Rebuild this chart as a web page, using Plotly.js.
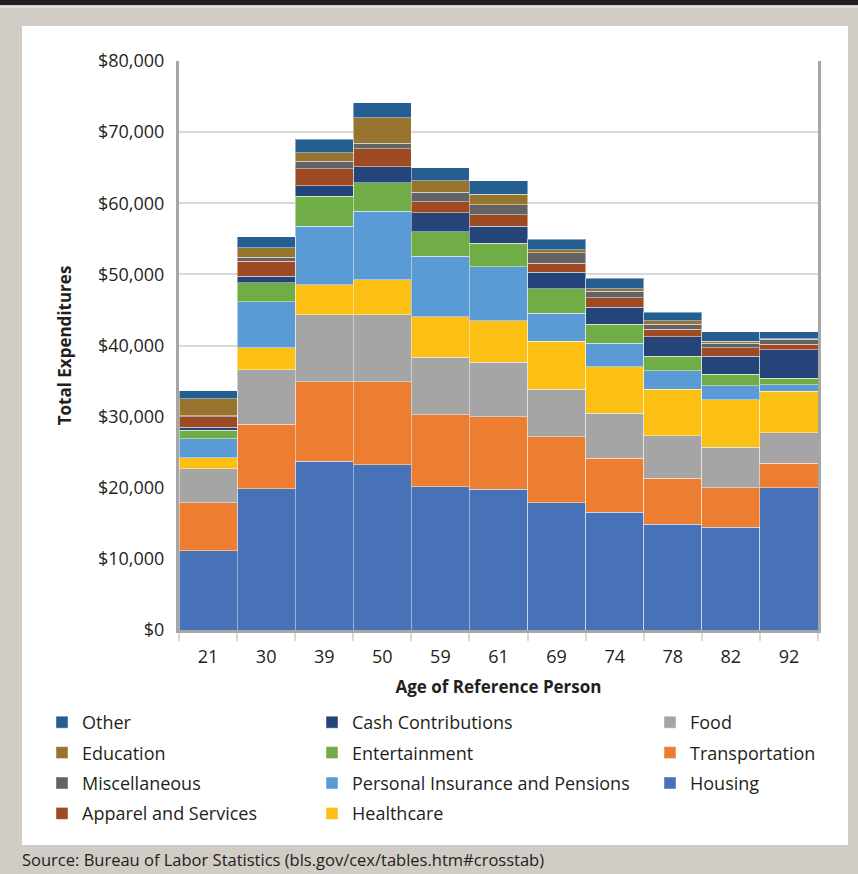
<!DOCTYPE html>
<html>
<head>
<meta charset="utf-8">
<script src="https://cdn.plot.ly/plotly-3.0.1.min.js"></script>
<style>
  html, body { margin: 0; padding: 0; }
  body { width: 858px; height: 874px; background: #d1ccc6; position: relative; overflow: hidden; font-family: "Open Sans", sans-serif; }
  #topbar { position: absolute; left: 0; top: 0; width: 858px; height: 5px; background: #231f20; }
  #topline { position: absolute; left: 0; top: 6px; width: 858px; height: 2px; background: #e2dfda; }
  #panel { position: absolute; left: 22px; top: 26px; width: 826px; height: 819px; background: #ffffff; }
  #chart { position: absolute; left: 0; top: 0; width: 858px; height: 874px; }
  #source { position: absolute; left: 22px; top: 848px; font-size: 16.5px; color: #231f20; }
</style>
</head>
<body>
<div id="topbar"></div>
<div id="topline"></div>
<div id="panel"></div>
<div id="chart"></div>
<div id="source">Source: Bureau of Labor Statistics (bls.gov/cex/tables.htm#crosstab)</div>
<script>
// Age of reference person (categories)
const ages = ['21', '30', '39', '50', '59', '61', '69', '74', '78', '82', '92'];

// Annual expenditures by category, dollars
const housing        = [11110, 19830, 23760, 23200, 20110, 19820, 17860, 16590, 14900, 14480, 19970];
const transportation = [6750, 9130, 11110, 11670, 10120, 10130, 9280, 7590, 6470, 5490, 3510];
const food           = [4780, 7600, 9420, 9420, 8150, 7730, 6740, 6330, 5910, 5760, 4220];
const healthcare     = [1550, 3090, 4220, 4920, 5630, 5770, 6750, 6470, 6600, 6610, 5900];
const insurance      = [2670, 6470, 8290, 9700, 8570, 7590, 3940, 3370, 2540, 1970, 850];
const entertainment  = [1260, 2670, 4220, 3940, 3380, 3370, 3380, 2670, 2100, 1680, 980];
const cash           = [420, 980, 1410, 2250, 2670, 2390, 2380, 2390, 2680, 2530, 3940];
const apparel        = [1410, 2110, 2390, 2530, 1550, 1550, 1270, 1270, 1120, 1130, 840];
const misc           = [200, 560, 1120, 840, 1400, 1410, 1410, 980, 700, 700, 700];
const education      = [2390, 1270, 1130, 3520, 1550, 1540, 420, 290, 430, 280, 60];
const other          = [1120, 1550, 1960, 2110, 1830, 1830, 1540, 1540, 1260, 1270, 990];

// Stack order from bottom to top; legend column and rank within that column
const series = [
  { name: 'Housing',                          y: housing,        color: '#4872b8', legend: 'legend3', rank: 3 },
  { name: 'Transportation',                   y: transportation, color: '#ed7d31', legend: 'legend3', rank: 2 },
  { name: 'Food',                             y: food,           color: '#a5a5a5', legend: 'legend3', rank: 1 },
  { name: 'Healthcare',                       y: healthcare,     color: '#fcbf14', legend: 'legend2', rank: 4 },
  { name: 'Personal Insurance and Pensions',  y: insurance,      color: '#5b9bd5', legend: 'legend2', rank: 3 },
  { name: 'Entertainment',                    y: entertainment,  color: '#70ad47', legend: 'legend2', rank: 2 },
  { name: 'Cash Contributions',               y: cash,           color: '#25457a', legend: 'legend2', rank: 1 },
  { name: 'Apparel and Services',             y: apparel,        color: '#9e4a23', legend: 'legend',  rank: 4 },
  { name: 'Miscellaneous',                    y: misc,           color: '#636363', legend: 'legend',  rank: 3 },
  { name: 'Education',                        y: education,      color: '#98742e', legend: 'legend',  rank: 2 },
  { name: 'Other',                            y: other,          color: '#255e91', legend: 'legend',  rank: 1 }
];

const traces = series.map(s => ({
  type: 'bar',
  name: s.name,
  x: ages,
  y: s.y,
  legend: s.legend,
  legendgroup: s.name,
  legendrank: s.rank,
  marker: { color: s.color, line: { color: 'rgba(255,255,255,0.45)', width: 1 } },
  hoverinfo: 'name+y'
}));

// plot area in page pixels: x 179..818, y 61..630
const L = 179, R = 818, T = 61, B = 630;
const W = 858, H = 874;
const px = v => (v - L) / (R - L);
const py = v => (B - v) / (B - T);

const legendFont = { family: 'Open Sans, sans-serif', size: 18, color: '#231f20' };
const legendBase = {
  orientation: 'v', xanchor: 'left', yanchor: 'top',
  traceorder: 'grouped', tracegroupgap: 4,
  font: legendFont, bgcolor: 'rgba(0,0,0,0)', borderwidth: 0
};

const layout = {
  width: W, height: H,
  margin: { l: L, r: W - R, t: T, b: H - B, pad: 0 },
  paper_bgcolor: 'rgba(0,0,0,0)',
  plot_bgcolor: '#ffffff',
  barmode: 'stack',
  bargap: 0,
  font: { family: 'Open Sans, sans-serif', size: 18, color: '#231f20' },
  xaxis: {
    type: 'category',
    showline: true, linecolor: '#a6a6a6', linewidth: 3,
    ticks: 'outside', tickson: 'boundaries', ticklen: 8, tickwidth: 2, tickcolor: '#d9d9d9',
    ticklabelstandoff: 8,
    tickfont: { size: 18, color: '#231f20' },
    title: { text: 'Age of Reference Person', font: { size: 17, color: '#231f20', weight: 'bold' }, standoff: 15 }
  },
  yaxis: {
    range: [0, 80000],
    dtick: 10000,
    tickprefix: '$', tickformat: ',d',
    showline: true, linecolor: '#a6a6a6', linewidth: 3, mirror: true,
    showgrid: true, gridcolor: '#d9d9d9', gridwidth: 2,
    zeroline: false,
    ticks: '', ticklabelstandoff: 8,
    tickfont: { size: 18, color: '#231f20' },
    title: { text: 'Total Expenditures', font: { size: 17, color: '#231f20', weight: 'bold' }, standoff: 23 }
  },
  legend:  Object.assign({}, legendBase, { x: px(42),  y: py(704) }),
  legend2: Object.assign({}, legendBase, { x: px(312), y: py(704) }),
  legend3: Object.assign({}, legendBase, { x: px(650), y: py(704) }),
  showlegend: true
};

Plotly.newPlot('chart', traces, layout, { displayModeBar: false, staticPlot: true });
</script>
</body>
</html>
